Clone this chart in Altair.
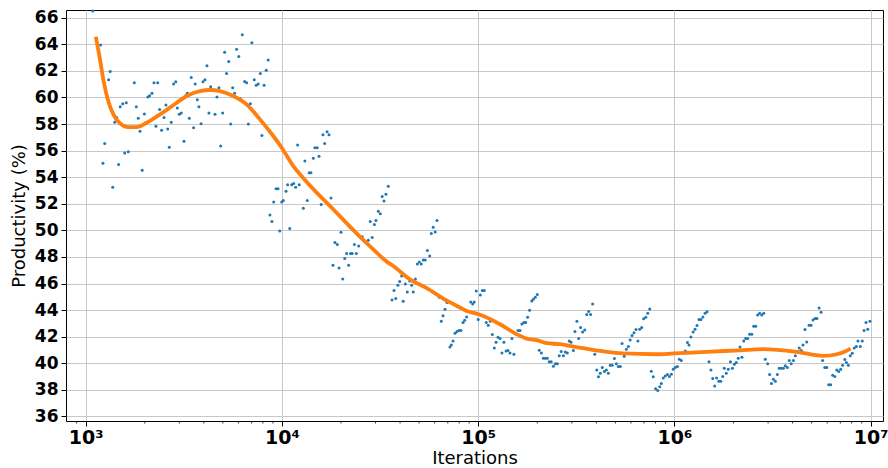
import altair as alt
import pandas as pd

# ---- scatter data (log10 of iterations, productivity %) ----
exp_pts = [
    3.036, 3.076, 3.088, 3.097, 3.117, 3.125, 3.138, 3.148, 3.158, 3.168,
    3.176, 3.189, 3.199, 3.207, 3.217, 3.248, 3.258, 3.268, 3.277, 3.288,
    3.299, 3.317, 3.326, 3.338, 3.348, 3.358, 3.367, 3.377, 3.387, 3.399,
    3.409, 3.418, 3.426, 3.436, 3.448, 3.459, 3.467, 3.477, 3.487, 3.501,
    3.510, 3.518, 3.528, 3.538, 3.550, 3.558, 3.569, 3.577, 3.588, 3.598,
    3.608, 3.618, 3.628, 3.637, 3.659, 3.669, 3.679, 3.688, 3.698, 3.708,
    3.718, 3.729, 3.739, 3.749, 3.759, 3.769, 3.780, 3.788, 3.798, 3.810,
    3.820, 3.829, 3.839, 3.847, 3.859, 3.869, 3.879, 3.890, 3.898, 3.909,
    3.920, 3.930, 3.939, 3.949, 3.958, 3.970, 3.980, 3.989, 3.999, 4.007,
    4.021, 4.029, 4.040, 4.050, 4.060, 4.070, 4.080, 4.088, 4.109, 4.117,
    4.129, 4.139, 4.148, 4.160, 4.168, 4.180, 4.189, 4.200, 4.209, 4.218,
    4.230, 4.240, 4.250, 4.260, 4.270, 4.282, 4.291, 4.301, 4.310, 4.320,
    4.330, 4.340, 4.350, 4.358, 4.369, 4.379, 4.391, 4.409, 4.440, 4.450,
    4.460, 4.471, 4.479, 4.491, 4.501, 4.511, 4.520, 4.530, 4.542, 4.561,
    4.571, 4.580, 4.591, 4.600, 4.610, 4.618, 4.629, 4.639, 4.651, 4.661,
    4.669, 4.680, 4.690, 4.700, 4.710, 4.720, 4.730, 4.741, 4.753, 4.761,
    4.771, 4.781, 4.790, 4.802, 4.812, 4.821, 4.831, 4.841, 4.856, 4.863,
    4.872, 4.882, 4.892, 4.902, 4.912, 4.923, 4.931, 4.941, 4.962, 4.972,
    4.980, 4.990, 5.000, 5.011, 5.021, 5.031, 5.041, 5.051, 5.062, 5.072,
    5.082, 5.091, 5.101, 5.111, 5.121, 5.131, 5.142, 5.152, 5.162, 5.172,
    5.182, 5.203, 5.213, 5.223, 5.233, 5.242, 5.252, 5.262, 5.273, 5.281,
    5.291, 5.301, 5.311, 5.322, 5.332, 5.342, 5.352, 5.362, 5.372, 5.383,
    5.393, 5.403, 5.413, 5.423, 5.434, 5.444, 5.454, 5.464, 5.473, 5.485,
    5.493, 5.503, 5.512, 5.522, 5.532, 5.543, 5.553, 5.563, 5.573, 5.583,
    5.594, 5.604, 5.613, 5.622, 5.632, 5.643, 5.653, 5.663, 5.673, 5.683,
    5.694, 5.704, 5.714, 5.724, 5.733, 5.744, 5.755, 5.765, 5.774, 5.784,
    5.794, 5.804, 5.814, 5.823, 5.833, 5.843, 5.854, 5.864, 5.874, 5.882,
    5.892, 5.904, 5.915, 5.925, 5.933, 5.943, 5.953, 5.964, 5.974, 5.984,
    5.994, 6.004, 6.015, 6.025, 6.035, 6.055, 6.066, 6.074, 6.084, 6.095,
    6.105, 6.115, 6.125, 6.135, 6.145, 6.156, 6.166, 6.176, 6.186, 6.195,
    6.205, 6.215, 6.226, 6.236, 6.246, 6.254, 6.264, 6.274, 6.285, 6.295,
    6.305, 6.315, 6.325, 6.334, 6.344, 6.353, 6.363, 6.373, 6.383, 6.394,
    6.404, 6.414, 6.424, 6.434, 6.445, 6.455, 6.463, 6.475, 6.485, 6.494,
    6.504, 6.514, 6.524, 6.534, 6.544, 6.555, 6.565, 6.575, 6.585, 6.595,
    6.606, 6.616, 6.626, 6.636, 6.646, 6.655, 6.665, 6.674, 6.686, 6.696,
    6.706, 6.716, 6.726, 6.737, 6.747, 6.755, 6.766, 6.776, 6.786, 6.796,
    6.806, 6.817, 6.827, 6.837, 6.847, 6.857, 6.868, 6.876, 6.886, 6.896,
    6.906, 6.916, 6.927, 6.935, 6.947, 6.957, 6.966, 6.976, 6.985, 6.996,
]
prod_pts = [
    66.5, 63.94, 55.05, 56.53, 61.34, 61.96, 53.24, 58.13, 58.5, 54.95,
    59.3, 59.53, 55.82, 59.6, 55.92, 61.11, 59.3, 58.43, 57.45, 54.52,
    58.75, 60.03, 60.13, 60.31, 61.11, 57.83, 61.11, 59.1, 57.53, 58.5,
    59.43, 57.63, 56.25, 58.13, 61.01, 61.19, 59.2, 58.73, 58.83, 56.7,
    60.13, 60.31, 58.43, 61.51, 57.73, 61.01, 59.83, 59.3, 58.03, 61.19,
    61.34, 62.39, 58.83, 60.81, 58.73, 60.03, 60.74, 56.35, 58.83, 63.41,
    61.81, 62.71, 58.0, 60.74, 60.31, 63.62, 63.09, 59.91, 64.72, 61.21,
    61.11, 58.0, 59.53, 64.12, 61.34, 60.91, 61.01, 61.81, 57.13, 60.91,
    62.04, 62.81, 51.16, 50.66, 52.14, 53.14, 53.14, 49.96, 52.14, 52.24,
    52.94, 53.44, 50.14, 53.44, 53.52, 53.24, 56.42, 53.44, 51.66, 55.22,
    52.24, 54.34, 54.34, 55.42, 56.22, 56.22, 55.57, 51.94, 57.2, 56.53,
    57.43, 57.2, 52.44, 47.38, 49.08, 48.93, 47.17, 49.86, 46.35, 47.88,
    48.26, 47.38, 48.26, 48.26, 48.93, 48.26, 48.83, 49.53, 49.26, 50.66,
    49.46, 50.44, 50.74, 51.44, 51.26, 52.54, 52.21, 52.71, 53.32, 44.77,
    45.47, 44.87, 45.87, 46.15, 46.57, 44.67, 45.97, 45.37, 46.2, 45.87,
    45.37, 46.35, 47.47, 47.62, 47.47, 47.77, 47.77, 48.48, 48.08, 49.76,
    50.23, 49.88, 50.74, 44.97, 43.17, 43.57, 44.07, 44.57, 41.23, 41.38,
    41.68, 42.26, 42.39, 42.47, 42.47, 43.07, 43.24, 43.49, 44.62, 44.47,
    44.62, 45.44, 43.29, 45.14, 45.47, 45.47, 43.07, 42.86, 43.17, 42.17,
    41.16, 41.59, 41.96, 41.86, 40.78, 41.59, 40.93, 40.96, 40.78, 41.86,
    40.68, 42.47, 42.47, 42.96, 43.07, 43.07, 43.47, 43.99, 44.69, 44.82,
    44.97, 45.17, 40.98, 40.78, 40.38, 40.38, 40.38, 40.11, 40.11, 39.78,
    39.96, 39.96, 40.56, 40.89, 40.56, 40.86, 40.78, 41.68, 41.59, 40.96,
    42.39, 43.17, 41.86, 42.69, 42.36, 42.51, 43.67, 43.89, 43.67, 44.47,
    40.68, 39.49, 38.98, 39.26, 39.68, 39.38, 39.5, 39.26, 39.86, 39.86,
    40.36, 39.96, 39.76, 39.76, 41.49, 40.53, 41.06, 41.26, 41.76, 42.09,
    42.29, 42.54, 41.68, 42.56, 42.69, 43.35, 43.46, 43.77, 44.09, 39.41,
    38.98, 38.08, 37.96, 38.23, 38.48, 38.9, 39.05, 39.16, 39.01, 39.18,
    39.56, 39.68, 39.76, 40.31, 40.21, 40.93, 41.56, 41.38, 41.98, 42.36,
    42.56, 42.84, 43.29, 43.29, 43.49, 43.77, 43.87, 40.11, 39.5, 38.86,
    38.3, 38.9, 38.65, 38.65, 39.01, 39.62, 39.26, 39.56, 40.11, 39.62,
    39.93, 40.06, 40.38, 41.23, 40.46, 41.68, 41.86, 41.86, 42.19, 42.19,
    42.79, 42.79, 43.64, 43.77, 43.64, 43.77, 40.31, 39.96, 39.16, 38.48,
    38.8, 38.65, 39.16, 39.62, 39.62, 39.62, 39.81, 39.68, 40.21, 39.96,
    40.21, 40.56, 40.91, 41.16, 40.96, 41.38, 42.54, 41.61, 42.86, 42.86,
    43.26, 43.37, 43.37, 44.17, 43.84, 40.21, 39.68, 39.68, 38.38, 38.38,
    39.1, 39.01, 39.5, 39.38, 39.56, 39.86, 40.28, 40.06, 39.86, 40.56,
    40.76, 41.16, 41.26, 41.68, 41.26, 41.68, 42.47, 43.07, 42.56, 43.17,
]

# ---- smoothed trend (log10 of iterations, productivity %) ----
curve_exp = [
    3.052, 3.073, 3.093, 3.115, 3.141, 3.175, 3.217, 3.260, 3.311, 3.379,
    3.446, 3.515, 3.582, 3.633, 3.684, 3.752, 3.820, 3.888, 3.956, 3.999,
    4.058, 4.092, 4.177, 4.228, 4.397, 4.483, 4.534, 4.567, 4.652, 4.738,
    4.822, 4.907, 4.941, 4.992, 5.026, 5.111, 5.196, 5.247, 5.298, 5.349,
    5.417, 5.485, 5.536, 5.621, 5.739, 5.910, 5.994, 6.164, 6.334, 6.453,
    6.623, 6.758, 6.827, 6.869, 6.898,
]
curve_prod = [
    64.57, 62.86, 61.11, 59.73, 58.73, 58.05, 57.77, 57.77, 58.10, 58.73,
    59.41, 60.11, 60.48, 60.56, 60.48, 60.11, 59.48, 58.35, 57.10, 56.22,
    54.84, 54.22, 52.84, 52.09, 49.53, 48.33, 47.65, 47.32, 46.32, 45.65,
    44.87, 44.20, 43.94, 43.74, 43.56, 42.94, 42.19, 41.86, 41.74, 41.51,
    41.44, 41.26, 41.14, 40.93, 40.74, 40.68, 40.74, 40.86, 40.98, 41.06,
    40.86, 40.56, 40.68, 40.89, 41.11,
]

# ---- axis ticks ----
y_ticks = list(range(36, 67, 2))
x_major = [1e3, 1e4, 1e5, 1e6, 1e7]
x_minor = [900] + [k * 10 ** d for d in range(3, 7) for k in range(2, 10)]

pts = pd.DataFrame({"iter": [10 ** e for e in exp_pts], "prod": prod_pts})
crv = pd.DataFrame({"iter": [10 ** e for e in curve_exp], "prod": curve_prod})
minor = pd.DataFrame({"iter": x_minor})

label_expr = (
    "'10' + ['\u2070','\u00b9','\u00b2','\u00b3','\u2074','\u2075',"
    "'\u2076','\u2077','\u2078','\u2079'][round(log(datum.value)/LN10)]"
)

FONT = "DejaVu Sans"
H = 411

x_scale = alt.Scale(type="log", domain=[794, 11550000], nice=False)
y_scale = alt.Scale(domain=[35.66, 66.58], nice=False, zero=False)

x_axis = alt.Axis(
    values=x_major,
    labelExpr=label_expr,
    grid=True, tickSize=5,
    labelFont=FONT, labelFontWeight="bold", labelFontSize=19, labelColor="black",
    labelOverlap=False, labelFlush=False, labelPadding=2,
    title="Iterations", titleFont=FONT, titleFontSize=18, titleFontWeight="normal",
    titleColor="black", titlePadding=2,
    domain=False, tickColor="black",
)
y_axis = alt.Axis(
    values=y_ticks, grid=True, tickSize=5,
    labelFont=FONT, labelFontWeight="bold", labelFontSize=17, labelColor="black",
    labelPadding=3,
    title="Productivity (%)", titleFont=FONT, titleFontSize=18, titleFontWeight="normal",
    titleColor="black", titlePadding=6,
    domain=False, tickColor="black",
)

points = alt.Chart(pts).mark_circle(size=9, color="#1f77b4", opacity=1).encode(
    x=alt.X("iter:Q", scale=x_scale, axis=x_axis),
    y=alt.Y("prod:Q", scale=y_scale, axis=y_axis),
)
line = alt.Chart(crv).mark_line(color="#ff7f0e", strokeWidth=3.8, interpolate="monotone").encode(
    x=alt.X("iter:Q", scale=x_scale, axis=x_axis),
    y=alt.Y("prod:Q", scale=y_scale, axis=y_axis),
)
minor_ticks = alt.Chart(minor).mark_rule(color="black", strokeWidth=0.8).encode(
    x=alt.X("iter:Q", scale=x_scale, axis=x_axis),
    y=alt.value(H),
    y2=alt.value(H + 2.5),
)

chart = alt.layer(minor_ticks, points, line).properties(
    width=817, height=H,
    autosize=alt.AutoSizeParams(type="none"),
    padding={"left": 66, "top": 10, "right": 5, "bottom": 47},
    background="white",
).configure_view(
    stroke="black", strokeWidth=1
).configure_axis(
    gridColor="#c8c8c8", gridWidth=1
)

chart.save("out.html", embed_options={"renderer": "svg", "actions": False})
